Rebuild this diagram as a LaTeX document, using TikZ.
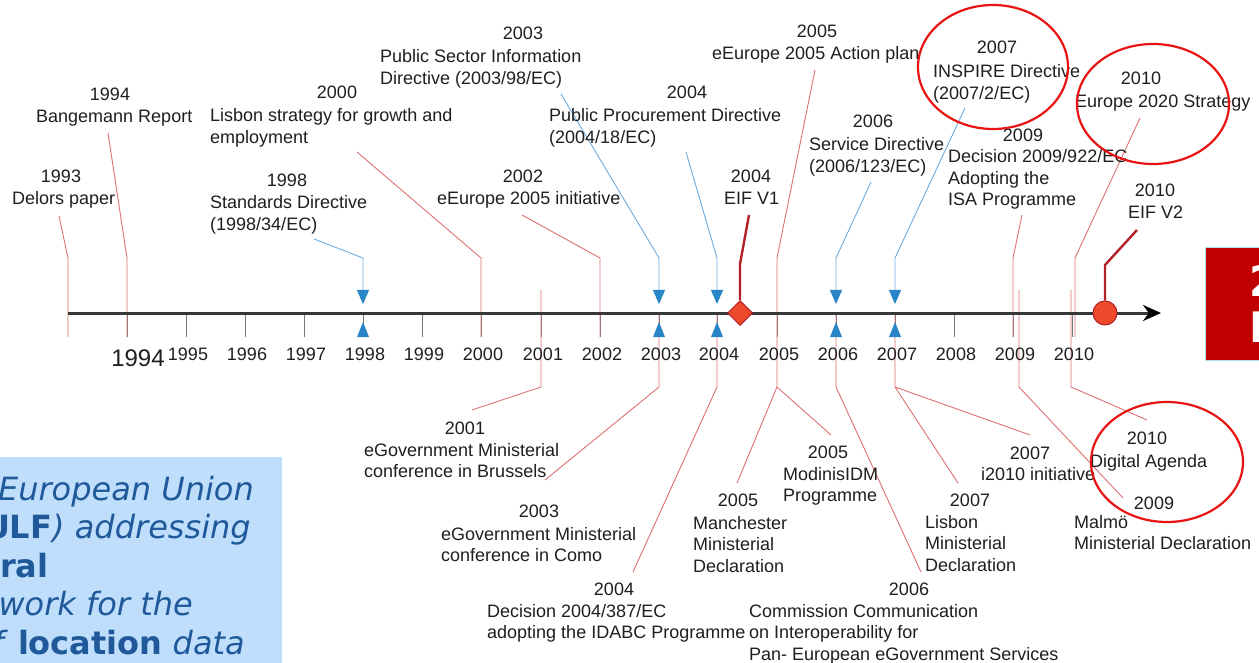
\documentclass[tikz,border=0pt]{standalone}
\usepackage{fontspec}
\setmainfont{Liberation Sans}
\newfontfamily\boxfont{DejaVu Sans}[ItalicFont={DejaVu Sans Oblique},BoldFont={DejaVu Sans Bold},BoldItalicFont={DejaVu Sans Bold Oblique}]
\usetikzlibrary{arrows.meta,
                shapes.geometric
            }

\definecolor{linkred}{RGB}{222,112,112}
\definecolor{linkblue}{RGB}{112,172,222}
\definecolor{tipblue}{RGB}{40,134,200}
\definecolor{eifred}{RGB}{178,32,40}
\definecolor{eiffill}{RGB}{236,74,42}
\definecolor{ringred}{RGB}{232,20,20}
\definecolor{axisgrey}{RGB}{55,55,55}
\definecolor{tickgrey}{RGB}{120,120,120}
\definecolor{panelblue}{RGB}{190,222,252}
\definecolor{paneltext}{RGB}{31,89,153}
\definecolor{slidered}{RGB}{192,0,0}
\definecolor{slideedge}{RGB}{176,222,232}

\newcommand{\lblfont}{\fontsize{18}{21.5}\selectfont}
\newcommand{\lines}[1]{\begin{tabular}[t]{@{}l@{}}#1\end{tabular}}

\tikzset{
    yr/.style={anchor=base, inner sep=0pt, font=\lblfont, text=black!88},
    txt/.style={anchor=base west, inner sep=0pt, font=\lblfont, text=black!88},
    tick/.style={tickgrey, line width=0.9pt},
    redlink/.style={linkred, line width=0.9pt},
    bluelink/.style={linkblue, line width=0.9pt, -{Triangle[width=12pt,length=14pt,color=tipblue]}},
    eiflink/.style={eifred, line width=2.4pt},
    eifmark/.style={fill=eiffill, draw=eifred, line width=1pt, inner sep=0pt},
    axisline/.style={axisgrey, line width=3pt, -{Stealth[length=18pt,width=16pt,color=black]}},
    ring/.style={ringred, line width=2.2pt},
    panel/.style={inner sep=0pt, text=paneltext, font={\boxfont\fontsize{32}{38.5}\selectfont}}
}

\begin{document}
\begin{tikzpicture}[x=1pt, y=-1pt]
            \useasboundingbox (0,0) rectangle (1259,663);
            \fill[white] (0,0) rectangle (1259,663);

            % text panel, cut at the slide edge
            \begin{scope}
                \clip (0,457) rectangle (282,663);
                \fill[panelblue] (0,457) rectangle (282,663);
                \node[panel, anchor=base east] (p1) at (254,500) {\itshape European Union};
                \node[panel, anchor=base east] (p2) at (251,538) {\textbf{ULF}\itshape) addressing};
                \node[panel, anchor=base west] (p3) at (0,577) {\textbf{ral}};
                \node[panel, anchor=base east] (p4) at (193,615) {\itshape work for the};
                \node[panel, anchor=base east] (p5) at (245,654) {\itshape f \upshape\textbf{location} \itshape data};
            \end{scope}

            % year ticks
            \draw[tick] (127,313) -- (127,337);
            \draw[tick] (186,313) -- (186,337);
            \draw[tick] (245,313) -- (245,337);
            \draw[tick] (304,313) -- (304,337);
            \draw[tick] (363,313) -- (363,337);
            \draw[tick] (422,313) -- (422,337);
            \draw[tick] (481,313) -- (481,337);
            \draw[tick] (541,313) -- (541,337);
            \draw[tick] (600,313) -- (600,337);
            \draw[tick] (659,313) -- (659,337);
            \draw[tick] (717,313) -- (717,337);
            \draw[tick] (777,313) -- (777,337);
            \draw[tick] (836,313) -- (836,337);
            \draw[tick] (895,313) -- (895,337);
            \draw[tick] (954,313) -- (954,337);
            \draw[tick] (1013,313) -- (1013,337);
            \draw[tick] (1072,313) -- (1072,337);

            % links from the upper labels
            \coordinate (t1993) at (59,216);   \coordinate (b1993) at (68,258);   \coordinate (e1993) at (68,337);
            \coordinate (t1994) at (108,133);  \coordinate (b1994) at (127,258);  \coordinate (e1994) at (127,337);
            \coordinate (t2000) at (357,152);  \coordinate (b2000) at (481,258);  \coordinate (e2000) at (481,337);
            \coordinate (t2002) at (522,215);  \coordinate (b2002) at (600,258);  \coordinate (e2002) at (600,337);
            \coordinate (t2009) at (1022,215); \coordinate (b2009) at (1013,258); \coordinate (e2009) at (1013,337);
            \coordinate (t2010) at (1140,118); \coordinate (b2010) at (1075,258); \coordinate (e2010) at (1075,337);
            \draw[redlink] (t1993) -- (b1993) -- (e1993);
            \draw[redlink] (t1994) -- (b1994) -- (e1994);
            \draw[redlink] (t2000) -- (b2000) -- (e2000);
            \draw[redlink] (t2002) -- (b2002) -- (e2002);
            \draw[redlink] (t2009) -- (b2009) -- (e2009);
            \draw[redlink] (t2010) -- (b2010) -- (e2010);

            \coordinate (t1998) at (314,239);  \coordinate (b1998) at (363,258);  \coordinate (m1998) at (363,304);
            \coordinate (t2003) at (561,94);   \coordinate (b2003) at (659,258);  \coordinate (m2003) at (659,304);
            \coordinate (t2004) at (686,152);  \coordinate (b2004) at (717,258);  \coordinate (m2004) at (717,304);
            \coordinate (t2006) at (871,182);  \coordinate (b2006) at (836,258);  \coordinate (m2006) at (836,304);
            \coordinate (t2007) at (965,108);  \coordinate (b2007) at (895,258);  \coordinate (m2007) at (895,304);
            \draw[bluelink] (t1998) -- (b1998) -- (m1998);
            \draw[bluelink] (t2003) -- (b2003) -- (m2003);
            \draw[bluelink] (t2004) -- (b2004) -- (m2004);
            \draw[bluelink] (t2006) -- (b2006) -- (m2006);
            \draw[bluelink] (t2007) -- (b2007) -- (m2007);

            % links to the lower labels
            \coordinate (o2001) at (541,290);  \coordinate (k2001) at (541,387);  \coordinate (u2001) at (472,410);
            \coordinate (o2003) at (659,313);  \coordinate (k2003) at (659,387);  \coordinate (u2003) at (545,480);
            \coordinate (o2004) at (717,313);  \coordinate (k2004) at (717,387);  \coordinate (u2004) at (633,572);
            \coordinate (t2005) at (815,70);   \coordinate (b2005) at (777,258);  \coordinate (k2005) at (777,387);
            \coordinate (u2005a) at (737,483); \coordinate (u2005b) at (831,435);
            \coordinate (o2006) at (836,313);  \coordinate (k2006) at (836,387);  \coordinate (u2006) at (921,572);
            \coordinate (o2007) at (895,313);  \coordinate (k2007) at (895,387);
            \coordinate (u2007a) at (958,483); \coordinate (u2007b) at (1030,435);
            \coordinate (o2009) at (1019,290); \coordinate (k2009) at (1019,387); \coordinate (u2009) at (1123,498);
            \coordinate (o2010) at (1071,290); \coordinate (k2010) at (1071,387); \coordinate (u2010) at (1147,420);
            \draw[redlink] (o2001) -- (k2001) -- (u2001);
            \draw[redlink] (o2003) -- (k2003) -- (u2003);
            \draw[redlink] (o2004) -- (k2004) -- (u2004);
            \draw[redlink] (t2005) -- (b2005) -- (k2005) -- (u2005a);
            \draw[redlink] (k2005) -- (u2005b);
            \draw[redlink] (o2006) -- (k2006) -- (u2006);
            \draw[redlink] (o2007) -- (k2007) -- (u2007a);
            \draw[redlink] (k2007) -- (u2007b);
            \draw[redlink] (o2009) -- (k2009) -- (u2009);
            \draw[redlink] (o2010) -- (k2010) -- (u2010);

            % the time axis
            \coordinate (ax0) at (68,313);
            \coordinate (ax1) at (1161,313);
            \draw[axisline] (ax0) -- (ax1);

            % markers on the axis
            \fill[tipblue] (357,337) -- (369,337) -- (363,322) -- cycle;
            \fill[tipblue] (653,337) -- (665,337) -- (659,322) -- cycle;
            \fill[tipblue] (711,337) -- (723,337) -- (717,322) -- cycle;
            \fill[tipblue] (830,337) -- (842,337) -- (836,322) -- cycle;
            \fill[tipblue] (889,337) -- (901,337) -- (895,322) -- cycle;

            \coordinate (tv1) at (749,215); \coordinate (bv1) at (740,264);
            \coordinate (tv2) at (1137,230); \coordinate (bv2) at (1105,265);
            \node[eifmark, diamond, minimum size=25pt] (eif1) at (740,313) {};
            \node[eifmark, circle, minimum size=24pt] (eif2) at (1105,313) {};
            \draw[eiflink] (tv1) -- (bv1) -- (eif1.north);
            \draw[eiflink] (tv2) -- (bv2) -- (eif2.north);

            % years under the axis
            \node[yr, font=\fontsize{24}{24}\selectfont] (a1994) at (138,366) {1994};
            \node[yr] (a1995) at (188,360) {1995};
            \node[yr] (a1996) at (247,360) {1996};
            \node[yr] (a1997) at (306,360) {1997};
            \node[yr] (a1998) at (365,360) {1998};
            \node[yr] (a1999) at (424,360) {1999};
            \node[yr] (a2000) at (483,360) {2000};
            \node[yr] (a2001) at (543,360) {2001};
            \node[yr] (a2002) at (602,360) {2002};
            \node[yr] (a2003) at (661,360) {2003};
            \node[yr] (a2004) at (719,360) {2004};
            \node[yr] (a2005) at (779,360) {2005};
            \node[yr] (a2006) at (838,360) {2006};
            \node[yr] (a2007) at (897,360) {2007};
            \node[yr] (a2008) at (956,360) {2008};
            \node[yr] (a2009) at (1015,360) {2009};
            \node[yr] (a2010) at (1074,360) {2010};

            % upper labels
            \node[yr] (y1993) at (61,183) {1993};
            \node[txt] (l1993) at (12,205) {Delors paper};
            \node[yr] (y1994) at (110,101) {1994};
            \node[txt] (l1994) at (36,123) {Bangemann Report};
            \node[yr] (y2000) at (337,99) {2000};
            \node[txt] (l2000) at (210,122) {\lines{Lisbon strategy for growth and\\employment}};
            \node[yr] (y1998) at (287,187) {1998};
            \node[txt] (l1998) at (210,209) {\lines{Standards Directive\\(1998/34/EC)}};
            \node[yr] (y2003a) at (523,40) {2003};
            \node[txt] (l2003a) at (380,63) {\lines{Public Sector Information\\Directive (2003/98/EC)}};
            \node[yr] (y2002) at (523,183) {2002};
            \node[txt] (l2002) at (437,205) {eEurope 2005 initiative};
            \node[yr] (y2004a) at (687,99) {2004};
            \node[txt] (l2004a) at (549,122) {\lines{Public Procurement Directive\\(2004/18/EC)}};
            \node[yr] (y2004v) at (751,183) {2004};
            \node[txt] (l2004v) at (724,205) {EIF V1};
            \node[yr] (y2005a) at (817,38) {2005};
            \node[txt] (l2005a) at (712,60) {eEurope 2005 Action plan};
            \node[yr] (y2006a) at (873,128) {2006};
            \node[txt] (l2006a) at (809,151) {\lines{Service Directive\\(2006/123/EC)}};
            \node[yr] (y2007a) at (997,54) {2007};
            \node[txt] (l2007a) at (933,78) {\lines{INSPIRE Directive\\(2007/2/EC)}};
            \node[yr] (y2009a) at (1023,142) {2009};
            \node[txt] (l2009a) at (948,163) {\lines{Decision 2009/922/EC\\Adopting the\\ISA Programme}};
            \node[yr] (y2010a) at (1141,85) {2010};
            \node[txt] (l2010a) at (1075,108) {Europe 2020 Strategy};
            \node[yr] (y2010v) at (1155,197) {2010};
            \node[txt] (l2010v) at (1128,219) {EIF V2};

            % lower labels
            \node[yr] (y2001) at (465,434) {2001};
            \node[txt] (l2001) at (364,456) {\lines{eGovernment Ministerial\\conference in Brussels}};
            \node[yr] (y2003b) at (539,517) {2003};
            \node[txt] (l2003b) at (441,540) {\lines{eGovernment Ministerial\\conference in Como}};
            \node[yr] (y2004b) at (614,595) {2004};
            \node[txt] (l2004b) at (487,617) {\lines{Decision 2004/387/EC\\adopting the IDABC Programme}};
            \node[yr] (y2005b) at (738,506) {2005};
            \node[txt] (l2005b) at (693,529) {\lines{Manchester\\Ministerial\\Declaration}};
            \node[yr] (y2005c) at (828,458) {2005};
            \node[txt] (l2005c) at (783,480) {\lines{ModinisIDM\\Programme}};
            \node[yr] (y2006b) at (909,595) {2006};
            \node[txt] (l2006b) at (749,617) {\lines{Commission Communication\\on Interoperability for\\Pan- European eGovernment Services}};
            \node[yr] (y2007b) at (970,506) {2007};
            \node[txt] (l2007b) at (925,528) {\lines{Lisbon\\Ministerial\\Declaration}};
            \node[yr] (y2007c) at (1030,459) {2007};
            \node[txt] (l2007c) at (981,480) {i2010 initiative};
            \node[yr] (y2010b) at (1147,444) {2010};
            \node[txt] (l2010b) at (1090,467) {Digital Agenda};
            \node[yr] (y2009b) at (1154,509) {2009};
            \node[txt] (l2009b) at (1074,528) {\lines{Malmö\\Ministerial Declaration}};

            % highlight rings
            \draw[ring] (993,67) ellipse [x radius=75pt, y radius=62pt];
            \draw[ring] (1153,104) ellipse [x radius=76pt, y radius=60pt];
            \draw[ring] (1167,462) ellipse [x radius=76pt, y radius=60pt];

            % red slide box, cut at the right edge
            \begin{scope}
                \clip (0,0) rectangle (1259,663);
                \filldraw[fill=slidered, draw=slideedge, line width=1pt] (1205,248) rectangle (1280,360);
                \node[anchor=base west, inner sep=0pt, text=white, font={\boxfont\bfseries\fontsize{42}{44}\selectfont}] (s1) at (1249,297) {2};
                \node[anchor=base west, inner sep=0pt, text=white, font={\boxfont\bfseries\fontsize{42}{44}\selectfont}] (s2) at (1249,342) {E};
            \end{scope}
        \end{tikzpicture}
\end{document}
